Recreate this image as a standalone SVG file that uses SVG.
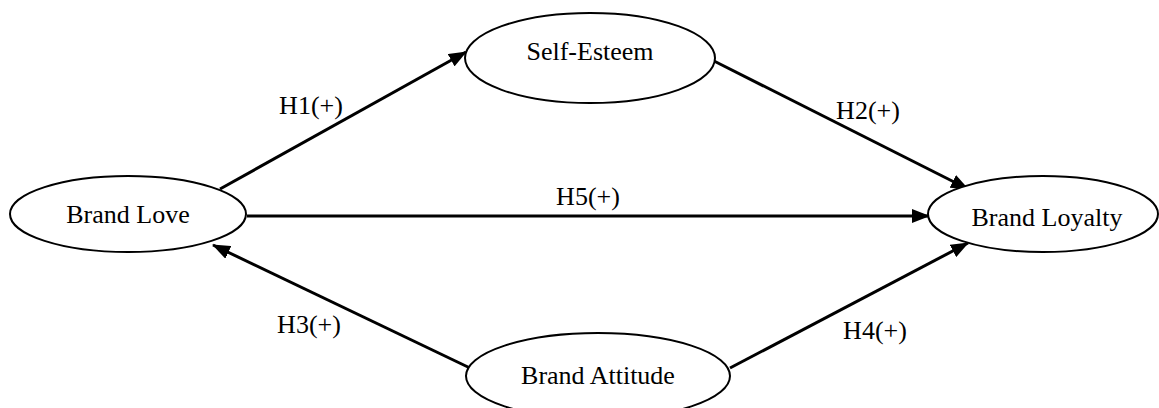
<svg xmlns="http://www.w3.org/2000/svg" width="1159" height="408" viewBox="0 0 1159 408">
<style>
.node ellipse{fill:#fff;stroke:#000;stroke-width:2}
text{font-family:"Liberation Serif","Times New Roman",serif;font-size:26px;fill:#000;text-anchor:middle}
.edge line{stroke:#000;stroke-width:3;marker-end:url(#ah)}
</style>
<defs>
<marker id="ah" markerUnits="userSpaceOnUse" markerWidth="18" markerHeight="14" refX="17" refY="7" orient="auto">
<path d="M0,0 L18,7 L0,14 z" fill="#000"/>
</marker>
</defs>
<rect width="1159" height="408" fill="#fff"/>
<g id="connectors" class="edge">
<line x1="220" y1="189" x2="466" y2="52"/>
<line x1="714" y1="61" x2="968" y2="189"/>
<line x1="247" y1="216" x2="929" y2="216"/>
<line x1="470" y1="368" x2="213" y2="245"/>
<line x1="730" y1="368" x2="968" y2="243"/>
</g>
<g id="labels">
<text x="311" y="114">H1(+)</text>
<text x="868" y="119">H2(+)</text>
<text x="588" y="205">H5(+)</text>
<text x="309" y="333">H3(+)</text>
<text x="875" y="339">H4(+)</text>
</g>
<g id="brand-love" class="node">
<ellipse cx="128" cy="214" rx="118" ry="38"/>
<text x="128" y="223">Brand Love</text>
</g>
<g id="self-esteem" class="node">
<ellipse cx="590" cy="58" rx="125" ry="45"/>
<text x="590" y="60">Self-Esteem</text>
</g>
<g id="brand-loyalty" class="node">
<ellipse cx="1043" cy="214" rx="115" ry="38"/>
<text x="1047" y="226">Brand Loyalty</text>
</g>
<g id="brand-attitude" class="node">
<ellipse cx="598" cy="376" rx="132" ry="43"/>
<text x="598" y="384">Brand Attitude</text>
</g>
</svg>
